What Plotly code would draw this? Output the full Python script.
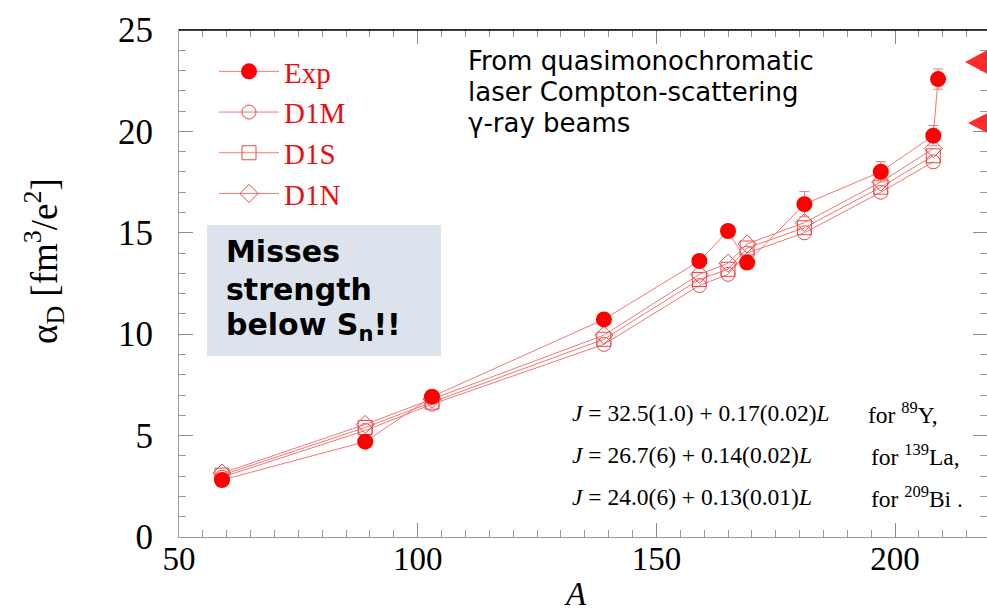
import plotly.graph_objects as go

# ---------------- data ----------------
A_exp = [59, 89, 103, 139, 159, 165, 169, 181, 197, 208, 209]
alpha_exp = [2.81, 4.70, 6.92, 10.73, 13.61, 15.09, 13.53, 16.41, 18.01, 19.79, 22.58]
alpha_exp_err = [0.15, 0.2, 0.2, 0.25, 0.25, 0.25, 0.25, 0.62, 0.5, 0.5, 0.5]

A_th = [59, 89, 103, 139, 159, 165, 169, 181, 197, 208]
alpha_d1m = [2.95, 5.25, 6.55, 9.50, 12.40, 12.95, 14.00, 15.00, 17.00, 18.50]
alpha_d1s = [3.05, 5.40, 6.65, 9.75, 12.70, 13.20, 14.25, 15.25, 17.25, 18.80]
alpha_d1n = [3.15, 5.55, 6.80, 9.95, 12.95, 13.50, 14.45, 15.50, 17.50, 19.15]

x_range = [50, 219.25]
y_range = [0, 25]

# ---------------- layout geometry (pixels of the 987x614 page) ----------------
W, H = 987, 614
ML, MR, MT, MB = 179, 0, 30, 77
PW, PH = W - ML - MR, H - MT - MB


def px(x):
    return (x - ML) / PW


def py(y):
    return (H - MB - y) / PH


RED = "#ff0000"
LINE_RED = "#f07878"
MARK_RED = "#e84848"
SERIF = "Liberation Serif"

fig = go.Figure()

th_series = [
    ("D1M", alpha_d1m, "circle-open", 2),
    ("D1S", alpha_d1s, "square-open", 3),
    ("D1N", alpha_d1n, "diamond-open", 4),
]
for name, vals, sym, rank in th_series:
    fig.add_trace(go.Scatter(
        x=A_th, y=vals, name=name, mode="lines+markers",
        line=dict(color=LINE_RED, width=1),
        marker=dict(symbol=sym, size=14, color=MARK_RED, line=dict(width=1, color=MARK_RED)),
        legendrank=rank,
    ))

fig.add_trace(go.Scatter(
    x=A_exp, y=alpha_exp, name="Exp", mode="lines+markers",
    line=dict(color=LINE_RED, width=1),
    marker=dict(symbol="circle", size=16, color=RED),
    error_y=dict(type="data", array=alpha_exp_err, visible=True, color=LINE_RED, thickness=1, width=5),
    legendrank=1,
))

axis_common = dict(
    showgrid=False, zeroline=False, showline=True, linecolor="#9a9a9a", linewidth=1,
    mirror="ticks", ticks="inside", tickcolor="#8a8a8a", tickwidth=1,
)

fig.update_xaxes(
    range=x_range, tick0=50, dtick=50, ticklen=14,
    minor=dict(dtick=5, ticks="inside", ticklen=7, tickcolor="#9a9a9a"),
    tickfont=dict(family=SERIF, size=33, color="black"),
    ticklabelstandoff=-8,
    **axis_common,
)
fig.update_yaxes(
    range=y_range, tick0=0, dtick=5, ticklen=14,
    minor=dict(dtick=1, ticks="inside", ticklen=7, tickcolor="#9a9a9a"),
    tickfont=dict(family=SERIF, size=35, color="black"),
    ticklabelstandoff=18,
    **axis_common,
)

shapes = [
    # black top frame line
    dict(type="line", xref="paper", yref="paper", x0=0, x1=1.01, y0=1, y1=1,
         line=dict(color="black", width=1.5)),
    # shaded box
    dict(type="rect", xref="paper", yref="paper", x0=px(207), x1=px(441), y0=py(356), y1=py(225),
         fillcolor="#dce3ed", line=dict(width=0), layer="below"),
    # red arrowheads at the right edge
    dict(type="path", xref="paper", yref="paper",
         path=f"M {px(965)} {py(62)} L {px(995)} {py(46)} L {px(995)} {py(78)} Z",
         fillcolor="#ff2a2a", line=dict(width=0)),
    dict(type="path", xref="paper", yref="paper",
         path=f"M {px(968)} {py(123)} L {px(995)} {py(109)} L {px(995)} {py(137)} Z",
         fillcolor="#ff2a2a", line=dict(width=0)),
]

annotations = []


def add_text(text, x, y, size, family, xanchor="left", yanchor="middle", color="black", angle=0):
    annotations.append(dict(
        text=text, xref="paper", yref="paper", x=px(x), y=py(y), showarrow=False,
        xanchor=xanchor, yanchor=yanchor, textangle=angle,
        font=dict(size=size, family=family, color=color),
    ))


# axis titles
add_text("α<sub>D</sub> [fm<sup>3</sup>/e<sup>2</sup>]", 44, 261, 37, SERIF, xanchor="center", angle=-90)
add_text("<i>A</i>", 575, 594, 33, SERIF, xanchor="center")

# top note
for line, yy in zip(["From quasimonochromatic", "laser Compton-scattering", "γ-ray beams"], [61, 92, 123]):
    add_text(line, 466, yy, 26, "DejaVu Sans")

# box text
for line, yy in zip(["<b>Misses</b>", "<b>strength</b>", "<b>below S<sub>n</sub>!!</b>"], [251, 289, 326]):
    add_text(line, 224, yy, 30, "DejaVu Sans")

# equations
eqs = [
    ("<i>J</i> = 32.5(1.0) + 0.17(0.02)<i>L</i>", "for <sup>89</sup>Y,", 413, 866),
    ("<i>J</i> = 26.7(6) + 0.14(0.02)<i>L</i>", "for <sup>139</sup>La,", 455, 869),
    ("<i>J</i> = 24.0(6) + 0.13(0.01)<i>L</i>", "for <sup>209</sup>Bi .", 497, 869),
]
for lhs, rhs, yy, xr in eqs:
    add_text(lhs, 570, yy, 23.5, SERIF)
    add_text(rhs, xr, yy, 23.5, SERIF)

fig.update_layout(
    width=W, height=H, autosize=False,
    margin=dict(l=ML, r=MR, t=MT, b=MB, pad=0),
    paper_bgcolor="white", plot_bgcolor="white",
    showlegend=True,
    legend=dict(
        x=px(214), y=py(46), xanchor="left", yanchor="top",
        font=dict(family=SERIF, size=29, color="#e81010"),
        bgcolor="rgba(0,0,0,0)", itemwidth=60, tracegroupgap=0,
    ),
    shapes=shapes, annotations=annotations,
)

fig.write_html("out.html")
